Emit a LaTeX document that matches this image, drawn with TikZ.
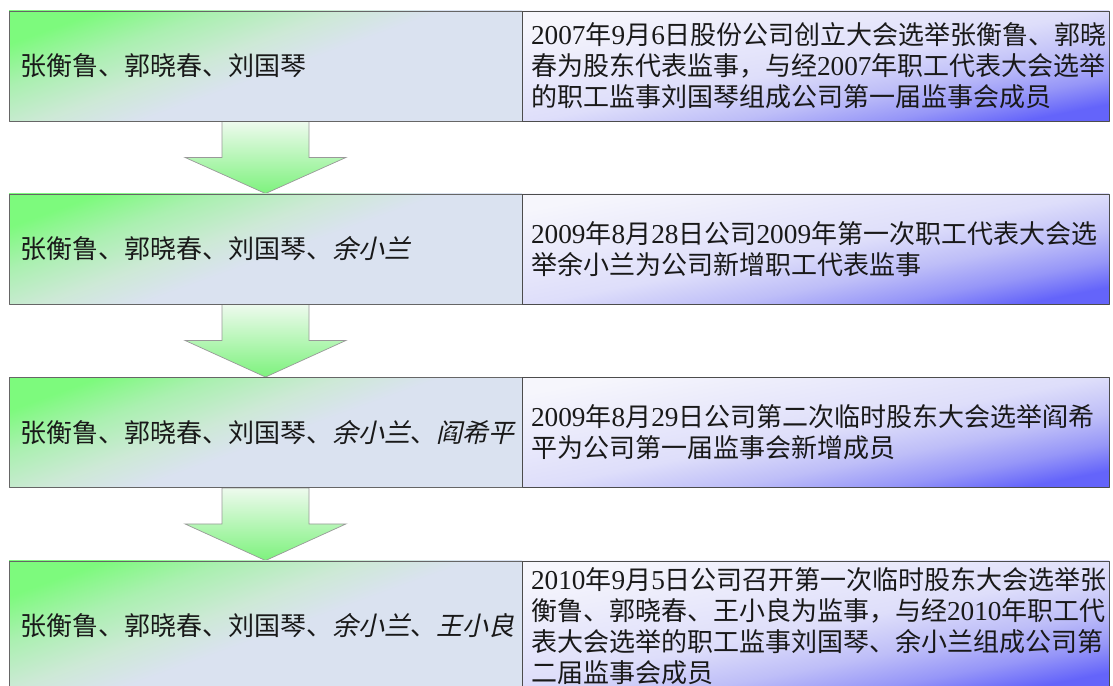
\documentclass[tikz,border=0pt]{standalone}
\usepackage{fontspec}
\setmainfont{Noto Sans CJK SC}
\newfontfamily\slantcjk[FakeSlant=0.22]{Noto Sans CJK SC}
\newfontfamily\digitfont[Scale=1.05]{Liberation Serif}
\newcommand{\nm}[1]{{\digitfont #1}}
\usepackage{tikz}
\usetikzlibrary{calc,backgrounds}
\definecolor{mgA}{RGB}{125,250,125}
\definecolor{mgB}{RGB}{170,240,176}
\definecolor{mgD}{RGB}{205,233,214}
\definecolor{mgC}{RGB}{218,226,240}
\definecolor{evA}{RGB}{246,246,252}
\definecolor{evB}{RGB}{222,222,250}
\definecolor{evD}{RGB}{190,190,248}
\definecolor{evE}{RGB}{150,150,248}
\definecolor{evC}{RGB}{100,100,250}
\definecolor{arA}{RGB}{238,250,238}
\definecolor{arB}{RGB}{125,242,125}
\pgfdeclareverticalshading{memshade}{100bp}{color(0bp)=(mgC); color(25bp)=(mgC); color(48bp)=(mgC);
  color(56bp)=(mgD); color(66bp)=(mgB); color(75bp)=(mgA); color(100bp)=(mgA)}
\pgfdeclareverticalshading{evshade}{100bp}{color(0bp)=(evC); color(25bp)=(evC); color(32bp)=(evE);
  color(40bp)=(evD); color(50bp)=(evB); color(75bp)=(evA); color(100bp)=(evA)}

\begin{document}
\begin{tikzpicture}[line join=bevel,
  member/.style={draw=black!60,line width=0.9bp,minimum width=513bp,inner xsep=11bp,inner ysep=0pt,
    text width=491bp,align=left,shade,shading=memshade,shading angle=20},
  event/.style={draw=black!70,line width=0.9bp,minimum width=587bp,inner xsep=9bp,inner ysep=0pt,
    text width=569bp,align=left,shade,shading=evshade,shading angle=11},
  blockarr/.style={draw=black!40,line width=0.7bp,top color=arA,bottom color=arB},
  every node/.style={font=\fontsize{26bp}{31bp}\selectfont,text=black!90},
]
\useasboundingbox (0bp,0bp) rectangle (1113bp,686bp);
%%
\node (m1) at (265.5bp,620bp) [member,minimum height=110bp] {张衡鲁、郭晓春、刘国琴};
  \node (e1) at (815.5bp,620bp) [event,minimum height=110bp] {\nm{2007}年\nm{9}月\nm{6}日股份公司创立大会选举张衡鲁、郭晓\\春为股东代表监事，与经\nm{2007}年职工代表大会选举\\的职工监事刘国琴组成公司第一届监事会成员};
  \node (m2) at (265.5bp,437bp) [member,minimum height=110bp] {张衡鲁、郭晓春、刘国琴、{\slantcjk 余小兰}};
  \node (e2) at (815.5bp,437bp) [event,minimum height=110bp] {\nm{2009}年\nm{8}月\nm{28}日公司\nm{2009}年第一次职工代表大会选\\举余小兰为公司新增职工代表监事};
  \node (m3) at (265.5bp,253.5bp) [member,minimum height=110bp] {张衡鲁、郭晓春、刘国琴、{\slantcjk 余小兰}、{\slantcjk 阎希平}};
  \node (e3) at (815.5bp,253.5bp) [event,minimum height=110bp] {\nm{2009}年\nm{8}月\nm{29}日公司第二次临时股东大会选举阎希\\平为公司第一届监事会新增成员};
  \node (m4) at (265.5bp,60bp) [member,minimum height=130bp] {张衡鲁、郭晓春、刘国琴、{\slantcjk 余小兰}、{\slantcjk 王小良}};
  \node (e4) at (815.5bp,60bp) [event,minimum height=130bp] {\nm{2010}年\nm{9}月\nm{5}日公司召开第一次临时股东大会选举张\\衡鲁、郭晓春、王小良为监事，与经\nm{2010}年职工代\\表大会选举的职工监事刘国琴、余小兰组成公司第\\二届监事会成员};
%
\begin{scope}[on background layer]
  \path [blockarr] ($(m1.south)+(-43.5bp,0)$) -- ($(m1.south)+(-43.5bp,-36bp)$) -- ($(m1.south)+(-80.5bp,-36bp)$) -- (m2.north)
    -- ($(m1.south)+(80.5bp,-36bp)$) -- ($(m1.south)+(43.5bp,-36bp)$) -- ($(m1.south)+(43.5bp,0)$) -- cycle;
  \path [blockarr] ($(m2.south)+(-43.5bp,0)$) -- ($(m2.south)+(-43.5bp,-36bp)$) -- ($(m2.south)+(-80.5bp,-36bp)$) -- (m3.north)
    -- ($(m2.south)+(80.5bp,-36bp)$) -- ($(m2.south)+(43.5bp,-36bp)$) -- ($(m2.south)+(43.5bp,0)$) -- cycle;
  \path [blockarr] ($(m3.south)+(-43.5bp,0)$) -- ($(m3.south)+(-43.5bp,-36bp)$) -- ($(m3.south)+(-80.5bp,-36bp)$) -- (m4.north)
    -- ($(m3.south)+(80.5bp,-36bp)$) -- ($(m3.south)+(43.5bp,-36bp)$) -- ($(m3.south)+(43.5bp,0)$) -- cycle;
\end{scope}
%
\end{tikzpicture}
\end{document}
